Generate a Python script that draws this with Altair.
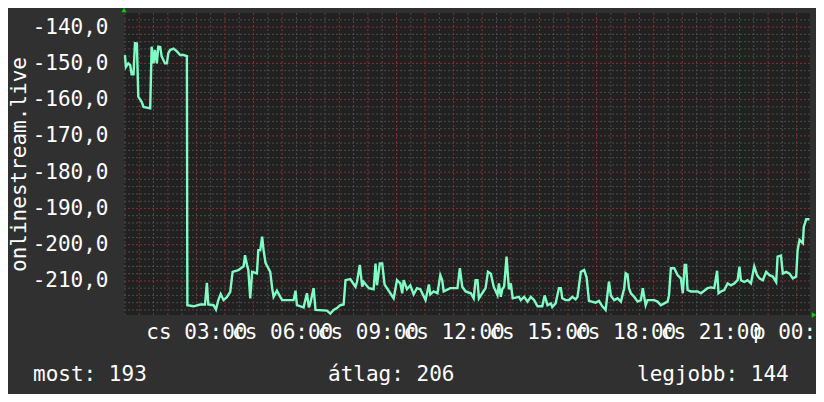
import altair as alt
import pandas as pd

# minutes after Thursday 00:00, and the plotted value
minutes = [30, 32, 37, 41, 44, 48, 51, 55, 58, 65, 69, 83, 86, 90, 93, 97, 100, 104, 107, 114,
           118, 121, 125, 132, 139, 146, 153, 160, 161, 174, 188, 198, 202, 205, 216, 221, 226, 231,
           237, 244, 251, 256, 268, 279, 282, 286, 289, 293, 297, 307, 310, 314, 318, 321, 325, 331,
           335, 339, 342, 349, 356, 360, 384, 388, 391, 405, 412, 416, 419, 426, 430, 454, 461, 468,
           475, 482, 489, 493, 503, 507, 514, 517, 523, 528, 531, 542, 552, 556, 559, 565, 570, 575,
           580, 587, 594, 601, 608, 612, 615, 622, 629, 636, 643, 650, 661, 668, 671, 678, 686, 692,
           696, 699, 713, 728, 733, 738, 745, 756, 762, 766, 770, 773, 780, 787, 792, 798, 804, 812,
           815, 819, 822, 826, 831, 836, 840, 844, 857, 861, 868, 875, 882, 889, 896, 906, 911, 917,
           924, 927, 934, 941, 945, 948, 955, 962, 969, 976, 980, 987, 994, 999, 1004, 1018, 1025,
           1032, 1039, 1046, 1050, 1057, 1064, 1071, 1078, 1081, 1085, 1088, 1092, 1099, 1106, 1113,
           1117, 1120, 1123, 1127, 1141, 1148, 1155, 1162, 1169, 1172, 1176, 1183, 1190, 1197, 1201,
           1205, 1208, 1211, 1218, 1232, 1239, 1246, 1253, 1260, 1267, 1273, 1276, 1281, 1288, 1295,
           1302, 1309, 1316, 1320, 1323, 1330, 1337, 1344, 1351, 1357, 1362, 1369, 1376, 1383, 1390,
           1397, 1400, 1407, 1411, 1418, 1425, 1432, 1439, 1442, 1446, 1453, 1455, 1460, 1467]
values = [-147.7, -151, -150, -150.5, -153, -153, -144.4, -144.5, -159.2, -160.6, -162, -162.4,
          -145.4, -150, -146.3, -150, -145.4, -145.5, -148, -150, -150, -147.2, -146.3, -145.9,
          -146.7, -147.7, -147.7, -148, -216.7, -217, -216.5, -216.5, -210.5, -216.5, -216.7,
          -217.9, -215.3, -213.6, -215.3, -214.5, -213, -207.5, -207, -206, -202.9, -205.5, -207,
          -214.8, -207.5, -207.9, -201.5, -201.5, -197.8, -201.5, -205, -206.5, -207.5, -212,
          -214.4, -212.7, -214.4, -215.3, -215.3, -212.7, -216.7, -217.3, -213.4, -217.3, -216.2,
          -212, -218, -218.2, -219, -218, -217.5, -216.7, -216.5, -209.8, -209.5, -210.3, -211.6,
          -210.3, -205.6, -211.6, -210.3, -212, -212.3, -205.2, -211.2, -205.2, -205.2, -211, -212,
          -213.4, -214.8, -209.8, -210.7, -213.4, -209.8, -212.3, -211.2, -213.7, -212, -212.3,
          -215.3, -211, -213.7, -212.9, -213.4, -208.4, -209.8, -212.9, -212, -212, -206.5, -211.6,
          -212.9, -213.4, -214.8, -209.8, -209.8, -214.8, -213.4, -212, -207.5, -208, -211.6,
          -213.9, -210.7, -214.4, -212.3, -211.5, -203.3, -212.3, -210.7, -214.8, -214.4, -215.3,
          -214.4, -215.7, -214.4, -215.3, -217, -217, -214, -216.7, -216.2, -217.2, -216.2, -212,
          -212, -214.8, -215.3, -215.3, -214.4, -215.1, -214.4, -207.5, -207, -209, -215.5, -216,
          -215.5, -217, -218, -210.2, -214, -215.3, -214.8, -215.7, -212, -207.9, -208.3, -212,
          -213.4, -214.4, -215.7, -215.3, -212, -214.4, -216.7, -215.3, -215.3, -215.7, -216.7,
          -216.2, -215.7, -214, -206.5, -206.5, -208.4, -209.3, -213.4, -205.6, -205.6, -212.5,
          -212.9, -212.9, -213.4, -212.7, -212, -211.8, -212, -207.2, -213.4, -212.9, -212.5,
          -210.7, -211.2, -210.7, -209.8, -206.1, -209.8, -210.3, -209.8, -210.7, -206, -208.4,
          -209.3, -209.8, -207.5, -208.4, -208.8, -210.3, -203.3, -203, -208, -207.5, -208, -209.3,
          -208.8, -201.5, -198.7, -199.6, -195.1, -193, -193]

y_ticks = [-210, -200, -190, -180, -170, -160, -150, -140]
x_ticks = [180, 360, 540, 720, 900, 1080, 1260, 1440]
x_tick_labels = ["cs 03:00", "cs 06:00", "cs 09:00", "cs 12:00",
                 "cs 15:00", "cs 18:00", "cs 21:00", "p 00:00"]
legend_texts = ["most: 193", "átlag: 206", "legjobb: 144"]
y_title = "onlinestream.live"

X_DOMAIN = [28, 1468]
Y_DOMAIN = [-219.4, -136.1]
FONT = "DejaVu Sans Mono"

xs = alt.Scale(domain=X_DOMAIN, nice=False, zero=False)
ys = alt.Scale(domain=Y_DOMAIN, nice=False, zero=False)

label_arr = "[" + ",".join("'" + s + "'" for s in x_tick_labels) + "]"

x_axis = alt.Axis(values=x_ticks, title=None, grid=False, domain=False, ticks=False,
                  labelExpr=label_arr + "[round(datum.value / 180) - 1]",
                  labelFont=FONT, labelFontSize=21, labelColor="#ffffff",
                  labelPadding=6, labelOverlap=False, labelBound=False, labelFlush=False)
y_axis = alt.Axis(values=y_ticks, title=y_title, grid=False, domain=False, ticks=False,
                  labelExpr="(datum.value < 0 ? '-' : '') + replace(format(abs(datum.value), '.1f'), '.', ',')",
                  labelFont=FONT, labelFontSize=21, labelColor="#ffffff",
                  labelPadding=16, labelOverlap=False, labelBound=False, labelFlush=False,
                  titleFont=FONT, titleFontSize=21, titleColor="#ffffff",
                  titleFontWeight="normal", titleAngle=270, titleX=-99, titleY=151,
                  titleAlign="center", titleBaseline="alphabetic")

df = pd.DataFrame({"m": minutes, "v": values})

v_minor = pd.DataFrame({"m": [m for m in range(30, 1468, 30) if m % 60 != 0]})
v_major = pd.DataFrame({"m": list(range(60, 1468, 60))})
h_minor = pd.DataFrame({"v": [v for v in range(-218, -136, 2) if v % 10 != 0]})
h_major = pd.DataFrame({"v": list(range(-210, -136, 10))})

MINOR = "#4c4c4c"
MAJOR = "#7a3434"

g1 = alt.Chart(v_minor).mark_rule(color=MINOR, strokeDash=[2, 2], strokeWidth=1).encode(
    x=alt.X("m:Q", scale=xs, axis=x_axis))
g2 = alt.Chart(h_minor).mark_rule(color=MINOR, strokeDash=[2, 2], strokeWidth=1).encode(
    y=alt.Y("v:Q", scale=ys, axis=y_axis))
g3 = alt.Chart(v_major).mark_rule(color=MAJOR, strokeDash=[2, 2], strokeWidth=1).encode(
    x=alt.X("m:Q", scale=xs, axis=x_axis))
g4 = alt.Chart(h_major).mark_rule(color=MAJOR, strokeDash=[2, 2], strokeWidth=1).encode(
    y=alt.Y("v:Q", scale=ys, axis=y_axis))

line = alt.Chart(df).mark_line(color="#80fcc4", strokeWidth=2.4, interpolate="linear").encode(
    x=alt.X("m:Q", scale=xs, axis=x_axis),
    y=alt.Y("v:Q", scale=ys, axis=y_axis),
)

one = alt.Data(values=[{}])
arrow_up = alt.Chart(one).mark_point(shape="triangle-up", filled=True, color="#00d000",
                                     size=28, opacity=1).encode(
    x=alt.value(0), y=alt.value(-3))
arrow_right = alt.Chart(one).mark_point(shape="triangle-right", filled=True, color="#00d000",
                                        size=28, opacity=1).encode(
    x=alt.value(690), y=alt.value(302))

legend_x = [-91, 204, 513]
texts = [alt.Chart(one).mark_text(font=FONT, fontSize=21, color="#ffffff", align="left",
                                  baseline="alphabetic").encode(
    x=alt.value(px), y=alt.value(368), text=alt.value(t))
    for px, t in zip(legend_x, legend_texts)]

chart = alt.layer(g1, g2, g3, g4, line, arrow_up, arrow_right, *texts).properties(
    width=686, height=302,
    background="#303030",
    padding={"left": 116, "top": 5, "right": 6, "bottom": 79},
    autosize=alt.AutoSizeParams(type="none"),
).configure_view(stroke=None, fill="#212121")

chart.save("out.html", embed_options={"renderer": "svg", "actions": False})
